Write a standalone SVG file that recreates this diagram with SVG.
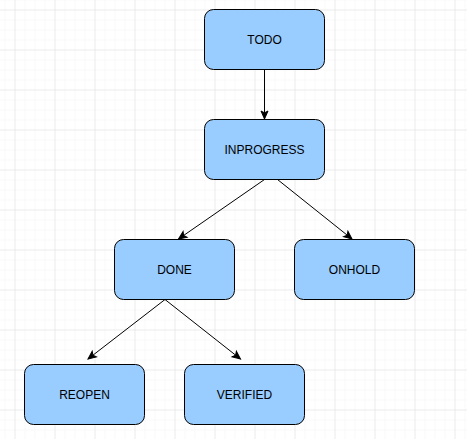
<svg xmlns="http://www.w3.org/2000/svg" width="467" height="439" viewBox="0 0 467 439">
<style>
.node rect{fill:#99CCFF;stroke:#000;stroke-width:1}
.node text{font-family:"Liberation Sans",Arial,sans-serif;font-size:12px;fill:#000;text-anchor:middle}
.edge{fill:none;stroke:#000;stroke-width:1;marker-end:url(#arr)}
</style>
<defs>
<pattern id="minor" x="4.5" y="9.5" width="10" height="10" patternUnits="userSpaceOnUse">
<path d="M0,0 H10 M0,0 V10" fill="none" stroke="#f3f3f3" stroke-width="1"/>
</pattern>
<pattern id="major" x="14.5" y="9.5" width="40" height="40" patternUnits="userSpaceOnUse">
<path d="M0,0 H40 M0,0 V40" fill="none" stroke="#e0e0e0" stroke-width="1"/>
</pattern>
<marker id="arr" markerUnits="userSpaceOnUse" markerWidth="12" markerHeight="12" refX="10" refY="5" orient="auto">
<path d="M10,5 L2,1.5 L3.8,5 L2,8.5 Z" fill="#000" stroke="#000" stroke-width="1"/>
</marker>
</defs>
<rect width="467" height="439" fill="#fff"/>
<rect width="467" height="439" fill="url(#minor)"/>
<rect width="467" height="439" fill="url(#major)"/>
<g id="connectors">
<path class="edge" d="M264.5,69.5 L264.5,119"/>
<path class="edge" d="M264.5,179.5 L178.5,239"/>
<path class="edge" d="M277.5,179.5 L352,239"/>
<path class="edge" d="M165,299.5 L88,359"/>
<path class="edge" d="M165,299.5 L240.5,359"/>
</g>
<g id="todo" class="node"><rect x="204.5" y="9.5" width="120" height="60" rx="9"/><text x="264.5" y="44">TODO</text></g>
<g id="inprogress" class="node"><rect x="204.5" y="119.5" width="120" height="60" rx="9"/><text x="264.5" y="154">INPROGRESS</text></g>
<g id="done" class="node"><rect x="114.5" y="239.5" width="120" height="60" rx="9"/><text x="174.5" y="274">DONE</text></g>
<g id="onhold" class="node"><rect x="294.5" y="239.5" width="120" height="60" rx="9"/><text x="354.5" y="274">ONHOLD</text></g>
<g id="reopen" class="node"><rect x="24.5" y="364.5" width="120" height="60" rx="9"/><text x="84.5" y="399">REOPEN</text></g>
<g id="verified" class="node"><rect x="184.5" y="364.5" width="120" height="60" rx="9"/><text x="244.5" y="399">VERIFIED</text></g>
</svg>
